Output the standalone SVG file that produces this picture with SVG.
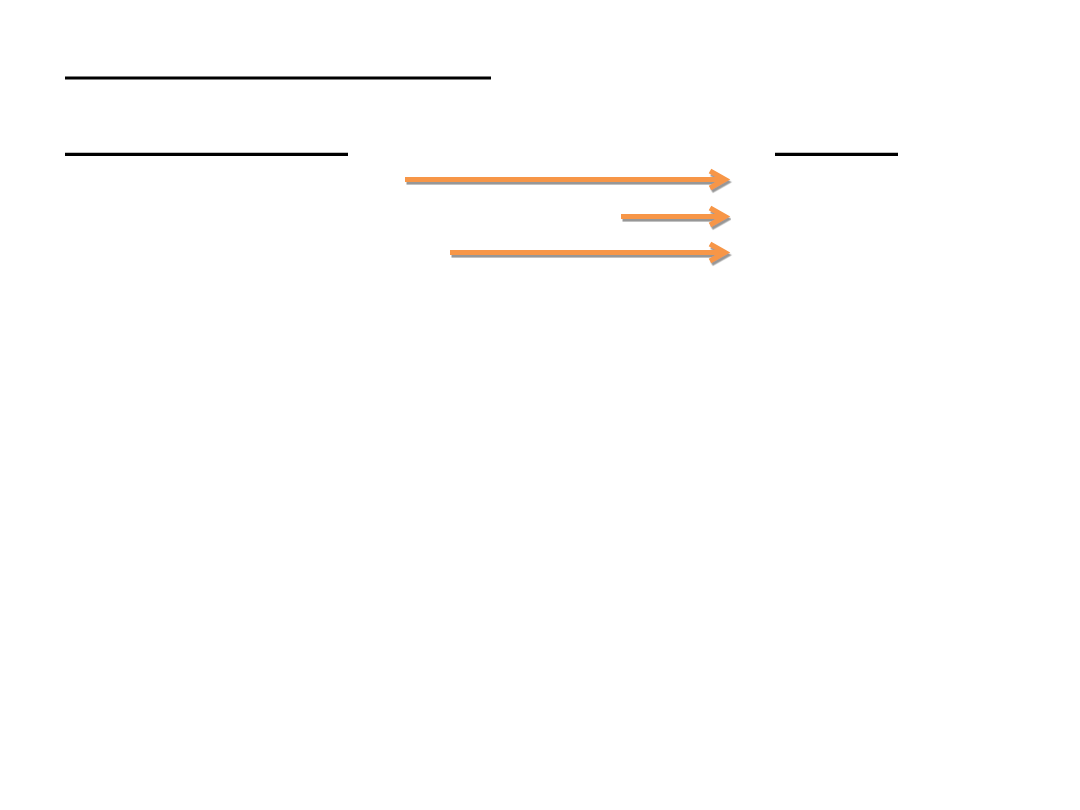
<svg xmlns="http://www.w3.org/2000/svg" width="1080" height="810" viewBox="0 0 1080 810">
  <style>
    .rule { stroke: #000000; stroke-width: 3.2; fill: none; }
    .arrow { stroke: #F79646; stroke-width: 5.2; fill: none; stroke-linejoin: miter; stroke-linecap: butt; filter: url(#shadow); }
  </style>
  <defs>
    <filter id="shadow" x="-5%" y="-100%" width="110%" height="300%">
      <feDropShadow dx="1.5" dy="2.6" stdDeviation="0.6" flood-color="#8c8c8c" flood-opacity="0.9"/>
    </filter>
  </defs>
  <rect width="1080" height="810" fill="#ffffff"/>
  <g id="rule-top">
    <line class="rule" x1="65" y1="78" x2="491" y2="78"/>
  </g>
  <g id="rule-left">
    <line class="rule" x1="65" y1="154.3" x2="348" y2="154.3"/>
  </g>
  <g id="rule-right">
    <line class="rule" x1="775" y1="154.3" x2="898" y2="154.3"/>
  </g>
  <g id="connectors">
    <path class="arrow" d="M405,179.5 H724 M710,171 L725,179.5 L710,188"/>
    <path class="arrow" d="M621,216.5 H724 M710,208 L725,216.5 L710,225"/>
    <path class="arrow" d="M450,252.5 H724 M710,244 L725,252.5 L710,261"/>
  </g>
</svg>
